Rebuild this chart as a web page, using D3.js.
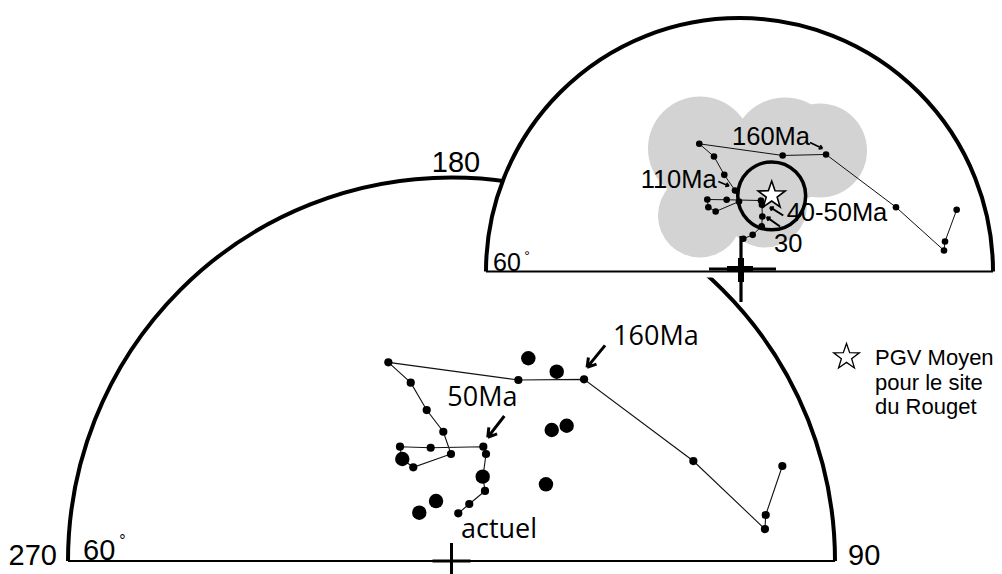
<!DOCTYPE html>
<html>
<head>
<meta charset="utf-8">
<script src="https://cdn.jsdelivr.net/npm/d3@7"></script>
<style>
  body { margin: 0; background: #fff; }
  svg { display: block; }
</style>
</head>
<body>
<div id="chart"></div>
<script>
const width = 1002;
const height = 574;

// Pole path, youngest (actuel) to oldest, as [east, north] offsets from the
// geographic pole in degrees of arc (rim of each half-net = 30 deg, i.e. 60 deg lat)
const mainPath = [
  [0.53, 3.73], [1.39, 4.46], [2.62, 5.48], [2.46, 6.57], [2.70, 8.37],
  [2.49, 8.94], [-1.63, 8.86], [-4.03, 8.94], [-3.87, 7.98], [-2.99, 7.33],
  [-0.04, 8.37], [-0.64, 10.11], [-1.94, 11.81], [-3.19, 13.95], [-4.94, 15.54],
  [5.23, 14.16], [10.37, 14.21], [18.92, 7.82], [24.52, 2.50], [24.58, 3.60],
  [25.88, 7.43]
];
// site poles (big dots)
const mainSites = [
  [6.01, 15.86], [8.23, 14.81], [7.84, 10.25], [9.01, 10.58], [-3.85, 7.98],
  [2.44, 6.60], [7.39, 6.00], [-1.21, 4.69], [-2.52, 3.78]
];
const insetPath = [
  [0.45, 3.87], [1.56, 4.34], [2.63, 5.36], [2.70, 6.51], [2.65, 7.90],
  [2.54, 8.40], [-1.52, 8.49], [-3.81, 8.52], [-3.69, 7.61], [-2.82, 7.10],
  [-0.06, 8.28], [-0.53, 9.59], [-1.80, 11.44], [-3.02, 13.61], [-4.76, 15.11],
  [5.11, 13.73], [10.24, 13.85], [18.52, 7.61], [24.20, 2.49], [24.32, 3.55],
  [25.70, 7.30]
];
// confidence cones around the inset poles: [east, north, radius]
const insetCones = [
  [-4.68, 14.56, 6.15], [5.39, 14.32, 6.27], [9.53, 14.32, 5.56],
  [-4.68, 6.63, 4.97], [3.02, 7.81, 4.97]
];
const meanPole = [3.81, 8.95];
const meanA95 = 4.02;

const mainNotes = ["160Ma", "50Ma", "actuel"];
const insetNotes = ["160Ma", "110Ma", "40-50Ma", "30"];
const rimLabels = ["180", "270", "90"];
const rimLat = "60";
const legendLines = ["PGV Moyen", "pour le site", "du Rouget"];

const svg = d3.select("#chart").append("svg").attr("width", width).attr("height", height);

const main = { cx: 451.5, cy: 561, r: 383.5 };
const inset = { cx: 739.5, cy: 271.5, r: 253.5 };

function scales(p) {
  return {
    x: d3.scaleLinear().domain([-30, 30]).range([p.cx - p.r, p.cx + p.r]),
    y: d3.scaleLinear().domain([0, 30]).range([p.cy, p.cy - p.r]),
    k: d3.scaleLinear().domain([0, 30]).range([0, p.r])
  };
}

function halfDisc(p) {
  const path = d3.path();
  path.moveTo(p.cx - p.r, p.cy);
  path.arc(p.cx, p.cy, p.r, Math.PI, 2 * Math.PI);
  path.closePath();
  return path.toString();
}

function rim(g, p) {
  const a = d3.path();
  a.moveTo(p.cx - p.r, p.cy);
  a.arc(p.cx, p.cy, p.r, Math.PI, 2 * Math.PI);
  g.append("path").attr("d", a.toString()).attr("fill", "none")
    .attr("stroke", "#000").attr("stroke-width", 4);
  g.append("line").attr("x1", p.cx - p.r).attr("x2", p.cx + p.r)
    .attr("y1", p.cy).attr("y2", p.cy).attr("stroke", "#000").attr("stroke-width", 2.2);
}

function arrow(g, x1, y1, x2, y2, size, w) {
  const a = Math.atan2(y2 - y1, x2 - x1);
  const p = d3.path();
  p.moveTo(x1, y1);
  p.lineTo(x2, y2);
  for (const s of [-1, 1]) {
    p.moveTo(x2 - size * Math.cos(a + s * 0.55), y2 - size * Math.sin(a + s * 0.55));
    p.lineTo(x2, y2);
  }
  g.append("path").attr("d", p.toString()).attr("fill", "none")
    .attr("stroke", "#000").attr("stroke-width", w);
}

function star(cx, cy, R) {
  const pts = d3.range(10).map(i => {
    const r = i % 2 ? R * 0.4 : R;
    const a = -Math.PI / 2 + i * Math.PI / 5;
    return [cx + r * Math.cos(a), cy + r * Math.sin(a)];
  });
  return "M" + pts.join("L") + "Z";
}

function latLabel(g, x, y, size, ringSize, dx, dy) {
  const t = g.append("text").attr("x", x).attr("y", y)
    .attr("font-family", "Liberation Sans, Arial, sans-serif").attr("font-size", size).text(rimLat);
  t.append("tspan").attr("font-size", ringSize).attr("dx", dx).attr("dy", dy).text("°");
}

// ---------- main net ----------
const gm = svg.append("g");
const sm = scales(main);
rim(gm, main);

const line = s => d3.line().x(d => s.x(d[0])).y(d => s.y(d[1]));

gm.append("path").datum(mainPath).attr("d", line(sm)).attr("fill", "none")
  .attr("stroke", "#111").attr("stroke-width", 1.1);
gm.selectAll("circle.pp").data(mainPath).join("circle").attr("class", "pp")
  .attr("cx", d => sm.x(d[0])).attr("cy", d => sm.y(d[1])).attr("r", 4.1).attr("fill", "#000");
gm.selectAll("circle.site").data(mainSites).join("circle").attr("class", "site")
  .attr("cx", d => sm.x(d[0])).attr("cy", d => sm.y(d[1])).attr("r", 7.2).attr("fill", "#000");

// annotations
const annFont = "Open Sans, sans-serif";
{
  const p160 = mainPath[16], p50 = mainPath[5], p0 = mainPath[0];
  const x160 = sm.x(p160[0]), y160 = sm.y(p160[1]);
  arrow(gm, x160 + 21, y160 - 34, x160 + 3, y160 - 12, 10, 3);
  gm.append("text").attr("x", x160 + 29).attr("y", y160 - 34).attr("font-family", annFont)
    .attr("font-size", 27).text(mainNotes[0]);
  const x50 = sm.x(p50[0]), y50 = sm.y(p50[1]);
  arrow(gm, x50 + 21, y50 - 30.7, x50 + 4.4, y50 - 9.4, 10, 3);
  gm.append("text").attr("x", x50 - 36).attr("y", y50 - 40.7).attr("font-family", annFont)
    .attr("font-size", 27).text(mainNotes[1]);
  gm.append("text").attr("x", sm.x(p0[0]) + 2.7).attr("y", sm.y(p0[1]) + 24.4)
    .attr("font-family", annFont).attr("font-size", 27).text(mainNotes[2]);
}

// pole cross
{
  const px = sm.x(0), py = sm.y(0);
  gm.append("path").attr("d", `M${px - 19},${py}H${px + 19}M${px},${py - 18}V${py + 18}`)
    .attr("stroke", "#000").attr("stroke-width", 3);
}

// rim labels
const axFont = "Liberation Sans, Arial, sans-serif";
gm.append("text").attr("x", main.cx + 4.5).attr("y", main.cy - main.r - 5.5)
  .attr("text-anchor", "middle").attr("font-family", axFont).attr("font-size", 29).text(rimLabels[0]);
gm.append("text").attr("x", main.cx - main.r - 11).attr("y", main.cy + 4)
  .attr("text-anchor", "end").attr("font-family", axFont).attr("font-size", 29).text(rimLabels[1]);
gm.append("text").attr("x", main.cx + main.r + 13).attr("y", main.cy + 4)
  .attr("font-family", axFont).attr("font-size", 29).text(rimLabels[2]);
latLabel(gm, main.cx - main.r + 15, main.cy - 1, 29, 16, 4, -14);

// ---------- inset net ----------
const gi = svg.append("g");
const si = scales(inset);
gi.append("path").attr("d", halfDisc(inset)).attr("fill", "#fff");
gi.append("rect").attr("x", inset.cx - inset.r).attr("y", inset.cy).attr("width", 2 * inset.r)
  .attr("height", 6).attr("fill", "#fff");

gi.selectAll("circle.cone").data(insetCones).join("circle").attr("class", "cone")
  .attr("cx", d => si.x(d[0])).attr("cy", d => si.y(d[1])).attr("r", d => si.k(d[2]))
  .attr("fill", "#d3d3d3");

gi.append("path").datum(insetPath).attr("d", line(si)).attr("fill", "none")
  .attr("stroke", "#111").attr("stroke-width", 1);
gi.selectAll("circle.pp").data(insetPath).join("circle").attr("class", "pp")
  .attr("cx", d => si.x(d[0])).attr("cy", d => si.y(d[1])).attr("r", 3.3).attr("fill", "#000");

gi.append("circle").attr("cx", si.x(meanPole[0])).attr("cy", si.y(meanPole[1]))
  .attr("r", si.k(meanA95)).attr("fill", "none").attr("stroke", "#000").attr("stroke-width", 3.5);
gi.append("path").attr("d", star(si.x(meanPole[0]), si.y(meanPole[1]) - 0.5, 14.3))
  .attr("fill", "#fff").attr("stroke", "#000").attr("stroke-width", 1.6);

{
  const f = axFont, fs = 25.5;
  const q160 = insetPath[16], q110 = insetPath[11], q50 = insetPath[5], q30 = insetPath[3];
  let x = si.x(q160[0]), y = si.y(q160[1]);
  arrow(gi, x - 16, y - 12, x - 3.5, y - 6, 4, 1.6);
  gi.append("text").attr("x", x - 16).attr("y", y - 9).attr("text-anchor", "end")
    .attr("font-family", f).attr("font-size", fs).text(insetNotes[0]);
  x = si.x(q110[0]); y = si.y(q110[1]);
  arrow(gi, x - 16.7, y - 9, x - 6, y - 4.5, 4, 1.6);
  gi.append("text").attr("x", x - 18.3).attr("y", y - 2.7).attr("text-anchor", "end")
    .attr("font-family", f).attr("font-size", fs).text(insetNotes[1]);
  x = si.x(q50[0]); y = si.y(q50[1]);
  arrow(gi, x + 22.3, y + 15, x + 9, y + 6.7, 4, 2);
  gi.append("text").attr("x", x + 25.7).attr("y", y + 20)
    .attr("font-family", f).attr("font-size", fs).text(insetNotes[2]);
  x = si.x(q30[0]); y = si.y(q30[1]);
  arrow(gi, x + 17.7, y + 10, x + 4.4, y + 0.7, 4, 2);
  gi.append("text").attr("x", x + 11.7).attr("y", y + 35.7)
    .attr("font-family", f).attr("font-size", fs).text(insetNotes[3]);
}

// inset pole cross
{
  const px = si.x(0) + 1.5, py = si.y(0) - 2.5;
  gi.append("path").attr("d", `M${px - 32},${py}H${px + 35}M${px},${py - 33}V${py + 33}`)
    .attr("stroke", "#000").attr("stroke-width", 3.2);
  gi.append("path").attr("d", `M${px - 14},${py}H${px + 12}M${px},${py - 11}V${py + 13}`)
    .attr("stroke", "#000").attr("stroke-width", 6);
}

rim(gi, inset);
latLabel(gi, inset.cx - inset.r + 7, inset.cy - 0.5, 25, 14, 3.4, -10);

// ---------- legend ----------
const lg = svg.append("g");
lg.append("path").attr("d", star(846.5, 357, 13.5)).attr("fill", "#fff")
  .attr("stroke", "#000").attr("stroke-width", 1.3);
lg.selectAll("text").data(legendLines).join("text")
  .attr("x", 875).attr("y", (d, i) => 365 + i * 24.5)
  .attr("font-family", axFont).attr("font-size", 22).text(d => d);
</script>
</body>
</html>
